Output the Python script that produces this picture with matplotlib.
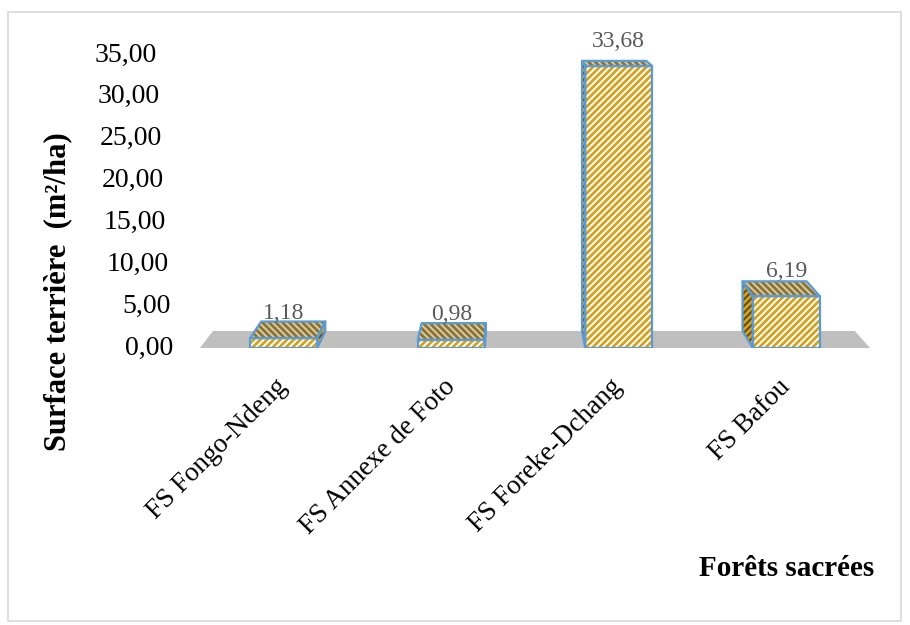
import matplotlib
matplotlib.use('Agg')
import matplotlib.pyplot as plt
import matplotlib.transforms as mtransforms
from matplotlib.patches import Polygon, Rectangle

plt.rcParams['font.family'] = ['Liberation Serif', 'DejaVu Serif']
plt.rcParams['hatch.linewidth'] = 2.0

# data
categories = ['FS Fongo-Ndeng', 'FS Annexe de Foto', 'FS Foreke-Dchang', 'FS Bafou']
values = [1.18, 0.98, 33.68, 6.19]
value_labels = ['1,18', '0,98', '33,68', '6,19']
yticks = [0, 5, 10, 15, 20, 25, 30, 35]
ytick_labels = ['0,00', '5,00', '10,00', '15,00', '20,00', '25,00', '30,00', '35,00']

# 3d look (excel style perspective)
VX, VY = 1.346, 48.4     # vanishing point, data coords
DEPTH = 0.042            # depth fraction toward vanishing point
BAR_W = 0.4

blue = '#5B9BD5'
gold = '#D4A21E'
olive = '#8A7334'
dark = '#5C4A1C'


def back(x, y, s=DEPTH):
    return (x + s * (VX - x), y + s * (VY - y))


def face(ax, pts, fc, hc, hatch):
    ax.add_patch(Polygon(pts, closed=True, facecolor=fc, edgecolor=hc,
                         hatch=hatch, linewidth=0, zorder=3))
    ax.add_patch(Polygon(pts, closed=True, facecolor='none', edgecolor=blue,
                         linewidth=1.6, joinstyle='round', zorder=4))


fig = plt.figure(figsize=(9.1, 6.25), dpi=100)
fig.patches.append(Rectangle((8 / 910, 1 - 621 / 625), 893 / 910, 609 / 625,
                             transform=fig.transFigure, fill=False,
                             edgecolor='#D9D9D9', linewidth=1.2))

ax = fig.add_axes([200 / 910, 1 - 348 / 625, 670 / 910, 293 / 625])
ax.set_xlim(-0.5, 3.5)
ax.set_ylim(0, 35)
ax.axis('off')

# floor
x0, x1 = ax.get_xlim()
floor = [(x0, 0), (x1, 0), back(x1, 0), back(x0, 0)]
ax.add_patch(Polygon(floor, closed=True, facecolor='#BFBFBF', edgecolor='none', zorder=1))

for i, v in enumerate(values):
    l, r = i - BAR_W / 2, i + BAR_W / 2
    # side face
    if i < VX:
        side = [(r, 0), (r, v), back(r, v), back(r, 0)]
    else:
        side = [(l, 0), (l, v), back(l, v), back(l, 0)]
    face(ax, side, dark, gold, '/////')
    # top face
    top = [(l, v), (r, v), back(r, v), back(l, v)]
    face(ax, top, '#D9CBA6', olive, '\\\\\\\\\\')
    # front face
    front = [(l, 0), (r, 0), (r, v), (l, v)]
    face(ax, front, 'white', gold, '/////')

    lab_tr = ax.transData + mtransforms.ScaledTranslation(0, 25 / 100, fig.dpi_scale_trans)
    ax.text(i, v, value_labels[i], transform=lab_tr, ha='center', va='center',
            fontsize=17, color='#595959', clip_on=False, zorder=5)

    xt = ax.transData + mtransforms.ScaledTranslation(0, -35 / 100, fig.dpi_scale_trans)
    ax.text(i, 0, categories[i], transform=xt, ha='right', va='center',
            rotation=45, rotation_mode='anchor', fontsize=19.5, clip_on=False)

# y tick labels follow the slanted left wall
ytr = mtransforms.blended_transform_factory(ax.transAxes, ax.transData)
for t, s in zip(yticks, ytick_labels):
    dx = -(27 + 16 * t / 35) / 100
    tr = ytr + mtransforms.ScaledTranslation(dx, 0, fig.dpi_scale_trans)
    ax.text(0, t, s, transform=tr, ha='right', va='center', fontsize=20, clip_on=False)

fig.text(58 / 910, 1 - 292 / 625, 'Surface terrière  (m²/ha)', rotation=90,
         ha='center', va='center', fontsize=22, fontweight='bold')
fig.text(874 / 910, 1 - 568 / 625, 'Forêts sacrées', ha='right', va='center',
         fontsize=21, fontweight='bold')

fig.savefig('out.png', dpi=100)
